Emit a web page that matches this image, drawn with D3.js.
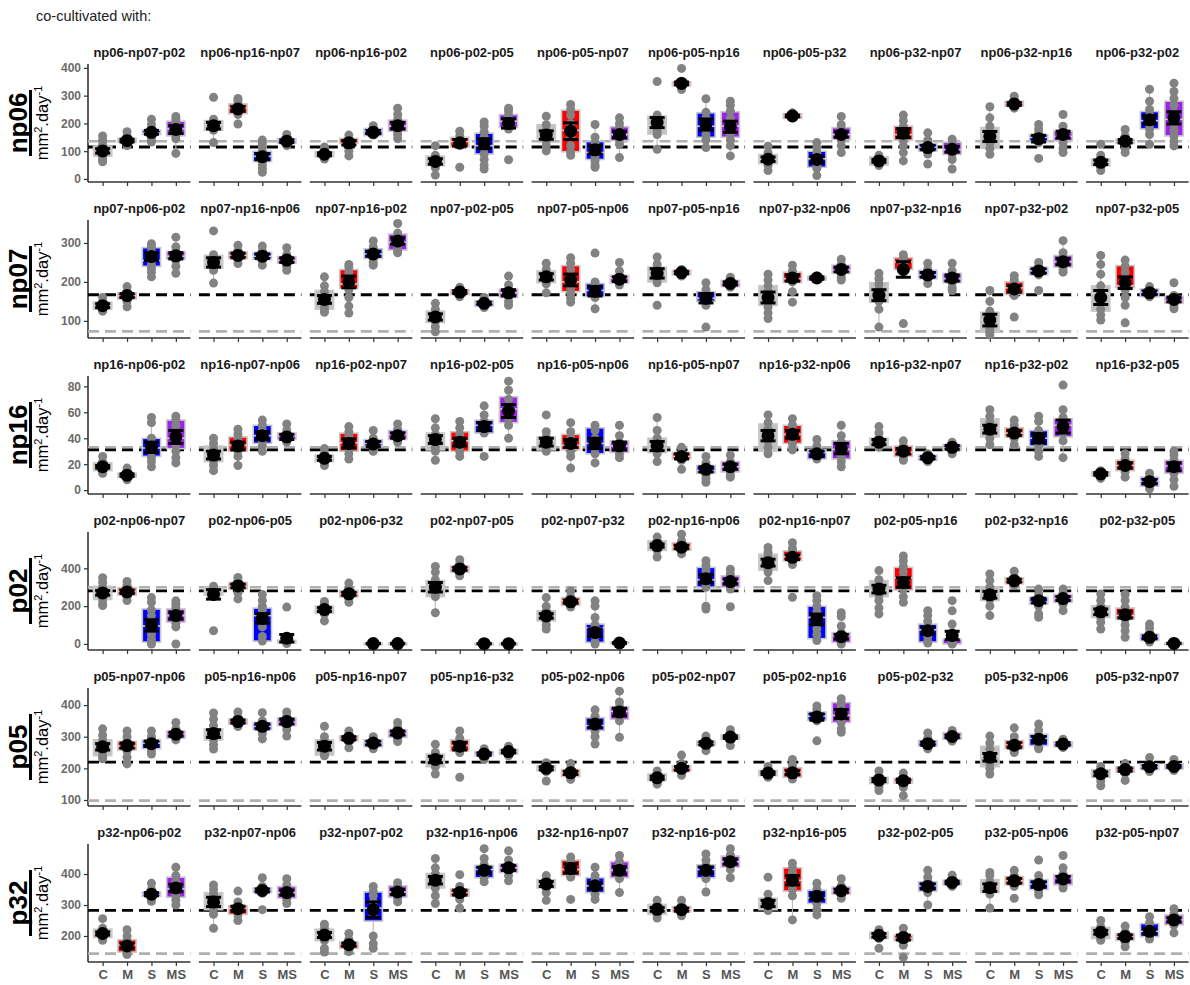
<!DOCTYPE html>
<html><head><meta charset="utf-8">
<script src="https://cdn.jsdelivr.net/npm/d3@7"></script>
<style>body{margin:0;background:#fff}svg{display:block}</style>
</head><body>
<svg id="chart" width="1190" height="985"></svg>
<script>
// ---------- categories & labels ----------
const groups = ["C", "M", "S", "MS"];
const groupColors = ["#c0c0c0", "#ff0000", "#0000ff", "#a020f0"];
const rowNames = ["np06", "np07", "np16", "p02", "p05", "p32"];
const np06Titles = ["np06-np07-p02","np06-np16-np07","np06-np16-p02","np06-p02-p05","np06-p05-np07","np06-p05-np16","np06-p05-p32","np06-p32-np07","np06-p32-np16","np06-p32-p02"];
const np07Titles = ["np07-np06-p02","np07-np16-np06","np07-np16-p02","np07-p02-p05","np07-p05-np06","np07-p05-np16","np07-p32-np06","np07-p32-np16","np07-p32-p02","np07-p32-p05"];
const np16Titles = ["np16-np06-p02","np16-np07-np06","np16-p02-np07","np16-p02-p05","np16-p05-np06","np16-p05-np07","np16-p32-np06","np16-p32-np07","np16-p32-p02","np16-p32-p05"];
const p02Titles = ["p02-np06-np07","p02-np06-p05","p02-np06-p32","p02-np07-p05","p02-np07-p32","p02-np16-np06","p02-np16-np07","p02-p05-np16","p02-p32-np16","p02-p32-p05"];
const p05Titles = ["p05-np07-np06","p05-np16-np06","p05-np16-np07","p05-np16-p32","p05-p02-np06","p05-p02-np07","p05-p02-np16","p05-p02-p32","p05-p32-np06","p05-p32-np07"];
const p32Titles = ["p32-np06-p02","p32-np07-np06","p32-np07-p02","p32-np16-np06","p32-np16-np07","p32-np16-p02","p32-np16-p05","p32-p02-p05","p32-p05-np06","p32-p05-np07"];

// ---------- y axes ----------
const yTicks = [[0,100,200,300,400],[100,200,300],[0,20,40,60,80],[0,200,400],[100,200,300,400],[200,300,400]];
const yDomains = [[-11,414],[56,359],[-3,88],[-32,592],[81,454],[116,497]];
const blackRef = [115, 167, 31, 281, 220, 283];   // black dashed reference
const greyRef  = [136, 73, 33, 300, 98, 143];     // grey dashed reference

// ---------- box stats: per panel, per group [q1, q3, mean, se] ----------
const np06Boxes = [
 [[82,118,101,8],[132,146,138,5],[160,176,168,7],[155,208,178,14]],
 [[175,210,192,12],[235,270,252,8],[62,100,80,11],[128,145,136,5]],
 [[80,98,89,5],[128,146,130,8],[156,182,168,5],[172,212,192,12]],
 [[48,82,63,10],[115,150,130,12],[90,165,127,18],[185,232,200,17]],
 [[145,195,158,15],[98,248,172,30],[70,135,105,15],[138,188,160,12]],
 [[162,226,203,18],[335,350,344,5],[150,238,196,20],[150,242,188,20]],
 [[55,88,71,8],[218,235,227,3],[42,100,70,12],[143,185,160,10]],
 [[50,80,65,5],[140,190,165,16],[100,128,113,8],[88,132,107,10]],
 [[110,185,153,18],[262,280,270,5],[135,160,145,12],[137,172,160,12]],
 [[47,72,60,8],[128,142,136,6],[180,243,213,15],[155,280,220,22]]];
const np07Boxes = [
 [[130,148,139,5],[156,172,165,5],[240,288,265,10],[258,278,267,8]],
 [[235,268,250,12],[260,277,268,6],[258,276,266,6],[248,265,256,6]],
 [[130,178,155,10],[183,232,200,15],[260,285,272,6],[282,323,305,8]],
 [[96,125,110,8],[168,180,174,4],[138,152,145,3],[160,182,172,8]],
 [[198,228,213,8],[175,242,205,15],[162,196,176,12],[197,217,207,6]],
 [[200,238,222,12],[218,230,224,3],[150,175,158,12],[188,204,196,4]],
 [[140,190,160,14],[198,225,210,8],[205,214,210,3],[222,243,232,6]],
 [[148,198,166,14],[232,262,232,20],[208,230,218,6],[198,222,210,8]],
 [[72,122,102,15],[168,200,182,8],[218,238,228,6],[238,268,252,8]],
 [[125,190,160,18],[185,242,198,15],[162,182,172,5],[145,163,155,6]]];
const np16Boxes = [
 [[15,21,18,1],[10,13,11.5,1],[26,40,33,4],[32,54,41,5]],
 [[22,34,27,3],[30,41,34,3],[36,50,42,3],[39,44,41,2]],
 [[22,27,24.5,1.5],[30,44,36,3.5],[34,39,35.5,2],[39,46,42,2]],
 [[31,44,39,3],[30,45,37,3],[44,54,49,3],[52,72,61,5]],
 [[31,41,37,3],[31,43,36,3],[28,48,36,4],[29,38,34,3]],
 [[29,40,34,3.5],[24,29,26,2],[13,19,16,2],[14,22,18,2]],
 [[30,51,42,4],[36,50,43,3],[24,31,28,2],[24,38,32,4]],
 [[34,40,37,2],[26,34,30,2],[23,27,25,1],[31,35,33,1.5]],
 [[41,55,47,3],[41,48,44,2],[34,46,40,3.5],[41,55,49,5]],
 [[11,14,12.5,1],[15,23,19,2],[3,10,6.5,1.5],[13,23,18,3]]];
const p02Boxes = [
 [[235,305,270,12],[258,298,275,8],[10,185,98,30],[115,185,150,18]],
 [[258,300,262,25],[290,325,307,10],[15,190,135,25],[5,20,30,20]],
 [[162,200,182,10],[248,282,265,8],[0,4,2,1],[0,4,2,1]],
 [[250,335,300,25],[380,412,397,8],[0,3,1.5,0.5],[0,3,1.5,0.5]],
 [[122,175,148,12],[205,245,223,8],[8,105,60,20],[2,10,5,2]],
 [[495,545,520,8],[495,535,512,8],[300,405,345,22],[300,360,330,12]],
 [[390,475,430,18],[440,492,458,12],[28,200,130,28],[8,60,38,12]],
 [[250,335,290,20],[285,405,325,25],[10,105,70,18],[0,25,45,22]],
 [[230,300,260,18],[318,350,334,8],[210,248,229,12],[220,262,240,10]],
 [[140,202,170,15],[130,190,155,18],[18,52,35,8],[0,5,3,1]]];
const p05Boxes = [
 [[240,290,268,10],[258,285,272,8],[262,290,278,8],[295,318,308,6]],
 [[290,325,310,12],[340,356,348,5],[322,345,333,8],[335,360,348,8]],
 [[242,290,270,12],[288,303,295,5],[268,290,280,6],[298,322,312,6]],
 [[205,245,228,10],[255,290,270,12],[240,253,245,4],[245,260,253,4]],
 [[193,208,200,5],[174,196,186,5],[320,360,340,10],[355,395,378,12]],
 [[161,182,170,5],[190,208,200,6],[272,286,279,5],[292,305,299,4]],
 [[177,193,185,4],[172,202,186,6],[352,378,362,10],[345,408,372,14]],
 [[152,172,163,5],[154,168,161,5],[270,288,278,5],[292,312,301,4]],
 [[205,270,235,12],[262,288,273,8],[272,308,292,8],[268,284,277,4]],
 [[172,196,183,6],[188,205,196,5],[196,214,205,4],[198,214,206,3]]];
const p32Boxes = [
 [[195,222,208,5],[148,188,168,8],[328,342,335,5],[325,390,355,12]],
 [[285,340,310,15],[270,298,288,8],[340,355,347,5],[322,360,340,8]],
 [[185,222,203,8],[160,180,172,5],[248,342,285,25],[325,362,342,8]],
 [[355,402,380,12],[328,352,340,8],[388,428,412,10],[405,432,420,8]],
 [[355,382,368,8],[395,445,418,15],[340,388,362,10],[388,440,412,12]],
 [[270,302,286,6],[278,295,285,5],[388,430,412,10],[422,458,440,8]],
 [[285,322,305,10],[345,420,380,15],[305,348,328,8],[335,358,346,5]],
 [[192,212,202,6],[185,202,195,8],[345,375,360,8],[365,380,373,4]],
 [[340,382,356,12],[365,392,378,8],[350,382,366,8],[365,398,384,8]],
 [[192,228,212,6],[186,208,198,6],[198,240,215,8],[236,268,252,6]]];

// ---------- individual replicate values ----------
const np06Points = [
 [[155,140,125,110,100,92,85,75,68,62],[170,155,145,140,135,128,120],[215,195,180,172,165,158,150,140,133],[225,215,205,195,185,175,165,155,145,92]],
 [[294,215,205,195,185,175,131],[290,282,272,262,252,242,232,198],[140,128,115,100,88,75,62,50,38,24],[160,150,142,136,128,120]],
 [[115,100,92,85,80,72],[158,145,135,125,115,100,83],[192,182,172,165,158],[255,232,215,200,190,180,170,160,145]],
 [[120,85,72,62,52,40,14],[172,155,140,130,120,42],[205,190,170,150,130,110,90,70,50,36],[255,245,230,215,200,190,180,69]],
 [[226,195,175,160,150,135,120,101],[268,250,230,200,175,150,120,98,85],[196,150,130,110,95,80,65,50,42],[220,200,185,170,160,150,140,125,77]],
 [[351,230,215,200,185,170,160,107],[398,352,345,338,330,322],[289,240,220,200,180,160,140,113],[280,265,245,220,200,180,160,140,120,83]],
 [[118,95,80,70,60,48,30],[238,232,228,224,220],[131,112,95,80,65,50,38,12],[225,195,180,165,155,140,120,95]],
 [[85,75,68,62,55,48],[230,210,190,175,160,140,120,95,65],[166,140,125,115,105,90,54],[143,130,120,110,100,90,70,36]],
 [[260,220,190,170,150,130,110,89],[298,285,275,268,260,255],[196,180,165,150,140,130,74],[232,190,175,160,145,130,110,95]],
 [[125,85,70,60,50,40,30],[178,155,142,135,125,110,95],[323,280,250,230,210,195,180,160,125],[345,315,290,265,240,215,195,175,155,135,119]]];
const np07Points = [
 [[160,148,140,132,125],[188,175,168,160,150,136],[298,290,278,265,255,245,235,225,213],[315,290,278,270,262,255,240,222]],
 [[331,270,260,250,240,230,197],[294,280,272,265,258,247],[292,280,270,262,255,243],[288,270,262,255,248,240,230]],
 [[213,190,175,160,148,138,128,122],[245,238,225,210,195,180,160,138,120],[305,290,282,275,268,260,250,243],[350,325,312,305,298,290,282,275]],
 [[145,130,118,108,98,85,72],[186,180,175,170,162],[160,152,146,140,134],[215,192,180,172,162,150,140]],
 [[248,232,222,212,204,195,172],[262,248,232,215,200,185,170,158,148],[274,200,188,178,168,160,131],[250,228,215,205,198,192]],
 [[264,245,232,220,208,198,140],[232,228,224,220,215],[198,180,168,158,150,140,84],[212,204,198,192,186]],
 [[220,205,190,175,160,148,135,120,106],[243,228,218,208,200,175,148],[215,212,210,207],[258,245,238,230,222,212,205]],
 [[222,208,195,180,165,150,130,84],[270,262,255,248,240,93],[248,232,222,215,208,196],[248,228,218,208,198,185,178]],
 [[178,150,125,110,95,80,72,65],[216,205,195,185,175,165,110],[250,240,232,225,218,178],[306,275,262,252,242,232,225]],
 [[268,245,220,190,170,150,130,115,102],[256,240,225,210,190,180,160,140,95],[188,180,174,168,162],[198,165,158,152,145,138,131]]];
const np16Points = [
 [[26,22,19,17,15,13],[17,14,12,11,9,8],[56,52,40,35,30,25,22,18],[57,54,50,45,40,35,30,25,21]],
 [[40,36,32,28,25,22,19,15],[47,43,40,36,33,30,26,19],[54,50,46,42,38,34,30],[51,46,43,41,39,37]],
 [[32,28,26,24,22,19],[49,45,42,38,35,32,28,24],[46,40,37,35,33,30],[51,47,44,42,40,37]],
 [[55,48,43,40,37,33,30,23],[53,48,43,38,34,30,26],[65,58,53,50,47,44,26],[84,77,70,65,60,55,50,40]],
 [[58,45,41,38,35,32,30],[52,45,40,36,33,30,26,17],[50,46,40,36,32,28,21],[50,42,37,34,31,28,25]],
 [[56,46,40,35,31,28,22],[33,29,27,25,23,16],[26,21,18,15,12,9,6],[27,22,20,18,15,12,10]],
 [[58,52,47,43,38,33,28],[55,50,46,43,40,36,31],[39,34,30,28,26,24],[50,42,37,33,30,26,22,18]],
 [[49,44,40,37,35,33],[38,34,31,29,27,25,23],[28,27,25,24,22],[37,35,33,32,30,28]],
 [[62,57,52,48,44,40,35],[54,50,46,44,42,40,35],[57,53,46,42,38,34,30,26],[81,62,56,52,48,44,38,25]],
 [[15,14,13,12,11,9],[28,24,21,19,17,14,10],[13,10,8,6,4,1],[30,27,23,20,17,13,8,3]]];
const p02Points = [
 [[350,325,300,280,265,250,232,212,203],[330,310,290,278,265,250,230],[245,220,180,150,110,80,50,25,5,0],[228,210,190,170,150,130,110,90,0]],
 [[305,295,288,280,270,260,70],[352,335,320,310,300,290,270,238],[262,230,200,180,150,120,90,40,15],[195,20,12,8,5,2]],
 [[225,210,195,182,170,158,122],[322,295,280,265,252,240,220],[5,3,2,1,0],[6,3,2,1,0]],
 [[410,380,340,310,290,270,250,165],[445,425,410,398,385,372,360],[3,2,1,0],[3,2,1,0]],
 [[245,200,175,155,140,125,100,79],[280,250,235,222,210,195],[228,200,140,100,70,40,10,0],[10,7,5,3,1]],
 [[565,545,530,520,510,495,460],[580,545,525,512,500,490,476],[440,415,390,365,340,320,300,200,185],[395,370,355,340,325,310,290,197]],
 [[510,485,460,440,420,400,380,335],[535,505,490,470,455,440,420,247],[255,230,200,170,140,110,80,50,18],[165,145,95,60,30,15,5,0]],
 [[388,340,315,295,280,260,230,190,159],[465,440,410,380,350,320,290,250,220],[176,150,120,90,60,40,15,5],[229,175,105,60,20,8,2,0]],
 [[370,335,300,275,255,235,200,150],[385,355,342,332,322,310],[290,265,245,230,215,200,160,141],[290,270,255,240,225,210,176]],
 [[264,230,200,180,160,140,115,79],[262,230,195,170,150,130,100,70,35],[105,85,60,40,28,18,10],[6,3,1,0]]];
const p05Points = [
 [[325,305,290,275,262,250,238,230],[318,300,285,275,265,255,235,214],[318,300,290,280,270,255,245],[345,325,315,305,298,290]],
 [[375,355,335,320,305,290,275,261],[378,362,352,345,338,332],[376,350,340,332,320,310,293],[378,365,355,345,335,322,302]],
 [[333,300,285,272,262,252,245,240],[318,305,298,292,285,265],[300,290,284,278,272,262],[345,330,318,310,300,292,285]],
 [[276,250,238,228,218,205,182],[318,295,285,272,262,250,172],[262,255,248,242,235,228],[270,262,256,250,244,240]],
 [[218,208,202,196,190,160],[215,200,192,185,178,170,165],[385,365,350,340,330,318,300,277],[444,410,395,385,375,362,350,298]],
 [[192,182,175,168,160,150],[242,215,205,198,190,178],[302,290,282,276,268,256],[322,310,302,296,288,272]],
 [[206,195,188,182,176,172],[228,210,198,188,178,170,166],[397,385,375,365,358,350,287],[420,405,390,375,360,345,325,314]],
 [[192,175,168,160,152,142,130],[185,170,164,158,150,140,114],[312,295,285,278,270,262],[320,310,305,298,292,286]],
 [[302,280,260,245,230,215,200,182],[328,300,285,275,265,255,250],[340,320,305,295,282,270,262],[292,285,279,273,266]],
 [[206,196,188,180,172,160,145],[215,205,198,192,185,162],[234,214,208,202,196,190],[228,214,208,204,198,193]]];
const p32Points = [
 [[256,225,215,208,200,192,186],[220,200,185,172,160,150,140],[370,350,340,335,328,320,312],[422,395,375,360,345,330,315,300]],
 [[365,350,335,320,305,290,270,225],[345,310,298,290,280,268,250],[388,360,352,345,338,285],[385,365,350,340,330,318,305]],
 [[238,225,212,205,195,185,160,148],[208,190,178,170,162,150],[360,345,330,310,290,270,200,175,160],[372,360,350,342,335,322,310]],
 [[450,420,400,385,370,355,330,305],[398,360,350,340,330,318,290],[482,450,430,415,400,390,375],[475,445,430,420,410,395,378]],
 [[395,382,372,365,355,340,315],[455,440,425,415,400,390,318],[422,395,378,362,350,335,318],[460,440,425,412,400,385,340]],
 [[315,300,292,285,278,268,258],[315,298,290,283,276,265],[465,445,428,415,400,385,342],[482,462,450,440,428,415,388]],
 [[390,335,315,305,292,282],[435,420,405,390,370,350,330,252],[370,350,338,328,318,305,285,268],[385,362,352,345,338,330,322]],
 [[220,212,205,200,192,160],[225,205,198,192,185,170,131],[412,390,375,362,350,340,300],[396,385,376,370,364,360]],
 [[405,395,375,360,345,335,290],[412,395,385,378,370,360,322],[445,395,380,368,355,345,333],[460,420,400,388,375,365,355]],
 [[250,230,220,212,202,192,186],[232,212,205,198,190,180,165],[262,242,228,215,205,195,190],[288,270,260,252,244,235,210]]];

const rowTitles = [np06Titles, np07Titles, np16Titles, p02Titles, p05Titles, p32Titles];
const rowBoxes = [np06Boxes, np07Boxes, np16Boxes, p02Boxes, p05Boxes, p32Boxes];
const rowPoints = [np06Points, np07Points, np16Points, p02Points, p05Points, p32Points];

// ---------- layout ----------
const FONT = "'Liberation Sans', Arial, Helvetica, sans-serif";
const svg = d3.select("#chart");
const axisX = 88, panelStep = 110.9, panelW = 102.5;
const rowTop0 = 64, rowStep = 156, plotH = 118;

svg.append("text").attr("x", 36).attr("y", 21)
  .attr("font-family", FONT).attr("font-size", 14.5).attr("fill", "#222")
  .text("co-cultivated with:");

rowNames.forEach((name, r) => {
  const top = rowTop0 + r * rowStep, bottom = top + plotH, cy = (top + bottom) / 2;
  const y = d3.scaleLinear().domain(yDomains[r]).range([bottom, top]);
  const g = svg.append("g");

  // row label
  g.append("text").attr("transform", `translate(27,${cy}) rotate(-90)`)
    .attr("text-anchor", "middle").attr("font-family", FONT).attr("font-weight", "bold")
    .attr("font-size", 26).attr("fill", "#000").text(name);
  g.append("line").attr("x1", 30.5).attr("x2", 30.5).attr("y1", cy - 33).attr("y2", cy + 33)
    .attr("stroke", "#000").attr("stroke-width", 3);
  const unit = g.append("text").attr("transform", `translate(48,${cy}) rotate(-90)`)
    .attr("text-anchor", "middle").attr("font-family", FONT).attr("font-size", 16.5).attr("fill", "#000");
  unit.append("tspan").text("mm");
  unit.append("tspan").attr("dy", -6).attr("font-size", 11).text("2");
  unit.append("tspan").attr("dy", 6).text(".day");
  unit.append("tspan").attr("dy", -6).attr("font-size", 11).text("-1");

  // y axis
  const yAxis = d3.axisLeft(y).tickValues(yTicks[r]).tickSize(4).tickPadding(3);
  const ya = g.append("g").attr("transform", `translate(${axisX},0)`).call(yAxis);
  ya.select(".domain").attr("stroke", "#333").attr("stroke-width", 1.6)
    .attr("d", `M0,${top}V${bottom}`);
  ya.selectAll(".tick line").attr("stroke", "#333").attr("stroke-width", 1.2);
  ya.selectAll(".tick text").attr("font-family", FONT).attr("font-weight", "bold")
    .attr("font-size", 12).attr("fill", "#6b6b6b");

  for (let p = 0; p < 10; p++) {
    const x0 = axisX + p * panelStep;
    const x = d3.scalePoint().domain(groups).range([x0, x0 + panelW]).padding(0.6);
    const bw = x.step() * 0.75;
    const pg = g.append("g");

    // strip title
    pg.append("text").attr("x", x0 + panelW / 2).attr("y", top - 7)
      .attr("text-anchor", "middle").attr("font-family", FONT).attr("font-weight", "bold")
      .attr("font-size", 13).attr("fill", "#1a1a1a").text(rowTitles[r][p]);

    // reference lines
    pg.append("line").attr("x1", x0).attr("x2", x0 + panelW)
      .attr("y1", y(greyRef[r])).attr("y2", y(greyRef[r]))
      .attr("stroke", "#b0b0b0").attr("stroke-width", 2.6).attr("stroke-dasharray", "11,6");
    pg.append("line").attr("x1", x0).attr("x2", x0 + panelW)
      .attr("y1", y(blackRef[r])).attr("y2", y(blackRef[r]))
      .attr("stroke", "#000").attr("stroke-width", 2.8).attr("stroke-dasharray", "11,6");

    // x axis
    const xAxis = d3.axisBottom(x).tickSize(4).tickPadding(4)
      .tickFormat(r === rowNames.length - 1 ? (d => d) : () => "");
    const xa = pg.append("g").attr("transform", `translate(0,${bottom})`).call(xAxis);
    xa.select(".domain").attr("stroke", "#333").attr("stroke-width", 1.6)
      .attr("d", `M${x0},0H${x0 + panelW}`);
    xa.selectAll(".tick line").attr("stroke", "#333").attr("stroke-width", 1.2);
    xa.selectAll(".tick text").attr("font-family", FONT).attr("font-weight", "bold")
      .attr("font-size", 13).attr("fill", "#555");

    groups.forEach((grp, k) => {
      const [q1, q3, mean, se] = rowBoxes[r][p][k];
      const pts = rowPoints[r][p][k];
      const cx = x(grp);
      const iqr = q3 - q1;
      const hiW = d3.max(pts.filter(v => v <= q3 + 1.5 * iqr).concat([q3]));
      const loW = d3.min(pts.filter(v => v >= q1 - 1.5 * iqr).concat([q1]));
      const med = Math.max(q1, Math.min(q3, d3.median(pts)));
      // whiskers
      pg.append("line").attr("x1", cx).attr("x2", cx).attr("y1", y(q3)).attr("y2", y(hiW))
        .attr("stroke", "#b8b8b8").attr("stroke-width", 1.1);
      pg.append("line").attr("x1", cx).attr("x2", cx).attr("y1", y(q1)).attr("y2", y(loW))
        .attr("stroke", "#b8b8b8").attr("stroke-width", 1.1);
      // box
      pg.append("rect").attr("x", cx - bw / 2).attr("width", bw)
        .attr("y", y(q3)).attr("height", Math.max(1.5, y(q1) - y(q3)))
        .attr("fill", groupColors[k]).attr("stroke", "#c8c8c8").attr("stroke-width", 1.6);
      pg.append("line").attr("x1", cx - bw / 2).attr("x2", cx + bw / 2)
        .attr("y1", y(med)).attr("y2", y(med)).attr("stroke", "#d0d0d0").attr("stroke-width", 1.6);
      // points
      pg.selectAll(null).data(pts).enter().append("circle")
        .attr("cx", cx).attr("cy", d => y(d)).attr("r", 4.5).attr("fill", "#828282");
      // mean +/- se
      const cap = 7.5;
      pg.append("line").attr("x1", cx).attr("x2", cx).attr("y1", y(mean - se)).attr("y2", y(mean + se))
        .attr("stroke", "#000").attr("stroke-width", 3);
      [mean - se, mean + se].forEach(v => {
        pg.append("line").attr("x1", cx - cap).attr("x2", cx + cap).attr("y1", y(v)).attr("y2", y(v))
          .attr("stroke", "#000").attr("stroke-width", 3);
      });
      pg.append("circle").attr("cx", cx).attr("cy", y(mean)).attr("r", 6.5).attr("fill", "#000");
    });
  }
});
</script>
</body></html>
